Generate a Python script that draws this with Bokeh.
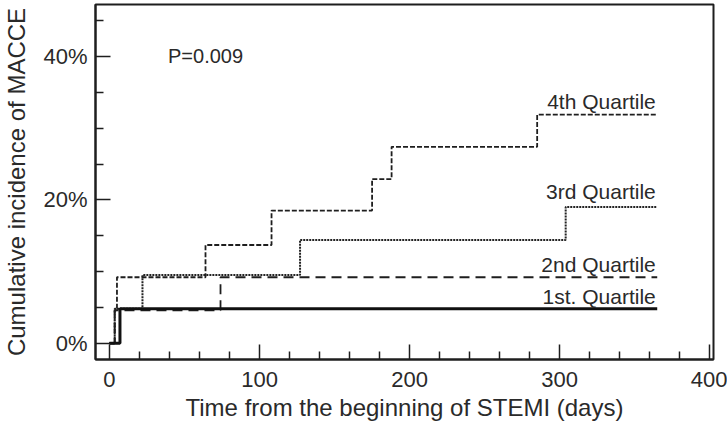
from bokeh.plotting import figure
from bokeh.models import FixedTicker, PrintfTickFormatter, Range1d, ColumnDataSource
from bokeh.embed import file_html
from bokeh.resources import INLINE
from bokeh.core.properties import value

# ---- data (days, cumulative incidence in %) ----
q1_days = [0, 7, 365]
q1_pct = [0, 4.8, 4.8]

q2_days = [0, 3.5, 74, 365]
q2_pct = [0, 4.6, 9.2, 9.2]

q3_days = [0, 3.5, 22, 127, 304, 365]
q3_pct = [0, 4.8, 9.5, 14.4, 19.0, 19.0]

q4_days = [0, 3.5, 5, 64, 108, 175, 188, 285, 365]
q4_pct = [0, 4.6, 9.2, 13.7, 18.5, 22.9, 27.4, 31.9, 31.9]

x_ticks = [0, 100, 200, 300, 400]
x_minor = [20, 40, 60, 80, 120, 140, 160, 180, 220, 240, 260, 280, 320, 340, 360, 380]
y_ticks = [0, 20, 40]
y_minor = [5, 10, 15, 25, 30, 35, 45]

labels = ["4th Quartile", "3rd Quartile", "2nd Quartile", "1st. Quartile"]
label_x = [364, 364, 364, 364]
label_y = [33.7, 21.2, 11.0, 6.5]

p_text = ["P=0.009"]
p_x = [39]
p_y = [40]

FONT = "Liberation Sans"
INK = "#1e1e1e"
TXT = "#2a2a2a"

p = figure(width=727, height=427, output_backend="svg", toolbar_location=None,
           x_range=Range1d(-9.3, 402.5), y_range=Range1d(-2.27, 47.25),
           min_border_left=94, min_border_right=14, min_border_top=4, min_border_bottom=68)
p.grid.visible = False
p.outline_line_color = INK
p.outline_line_width = 2
p.background_fill_color = "white"
p.border_fill_color = "white"

# axes
p.xaxis.ticker = FixedTicker(ticks=x_ticks, minor_ticks=x_minor)
p.yaxis.ticker = FixedTicker(ticks=y_ticks, minor_ticks=y_minor)
p.yaxis.formatter = PrintfTickFormatter(format="%d%%")
for ax in (p.xaxis[0], p.yaxis[0]):
    ax.axis_line_color = INK
    ax.axis_line_width = 2
    ax.major_tick_in = 15
    ax.major_tick_out = 0
    ax.minor_tick_in = 8
    ax.minor_tick_out = 0
    ax.major_tick_line_color = INK
    ax.minor_tick_line_color = INK
    ax.major_tick_line_width = 1.5
    ax.minor_tick_line_width = 1.5
    ax.major_label_text_font = FONT
    ax.major_label_text_font_size = "22px"
    ax.major_label_text_color = TXT
    ax.axis_label_text_font = FONT
    ax.axis_label_text_font_style = "normal"
    ax.axis_label_text_color = TXT

p.xaxis.axis_label = "Time from the beginning of STEMI (days)"
p.xaxis.axis_label_text_font_size = "24px"
p.xaxis.major_label_standoff = 12
p.xaxis.axis_label_standoff = 4

p.yaxis.axis_label = "Cumulative incidence of MACCE"
p.yaxis.axis_label_text_font_size = "24px"
p.yaxis.major_label_standoff = 8
p.yaxis.axis_label_standoff = 10

# curves
p.step(q4_days, q4_pct, mode="after", line_color=INK, line_width=1.8, line_dash="5 2")
p.step(q3_days, q3_pct, mode="after", line_color="#222222", line_width=2, line_dash="2 1")
p.step(q2_days, q2_pct, mode="after", line_color=INK, line_width=1.8, line_dash="10 6")
p.step(q1_days, q1_pct, mode="after", line_color="#111111", line_width=3)

# labels
src = ColumnDataSource(dict(x=label_x, y=label_y, t=labels))
p.text(x="x", y="y", text="t", source=src, text_align="right", text_baseline="middle",
       text_font=value(FONT), text_font_size="21px", text_color=TXT)
psrc = ColumnDataSource(dict(x=p_x, y=p_y, t=p_text))
p.text(x="x", y="y", text="t", source=psrc, text_align="left", text_baseline="middle",
       text_font=value(FONT), text_font_size="20px", text_color=TXT)

open("out.html", "w").write(file_html(p, INLINE))
